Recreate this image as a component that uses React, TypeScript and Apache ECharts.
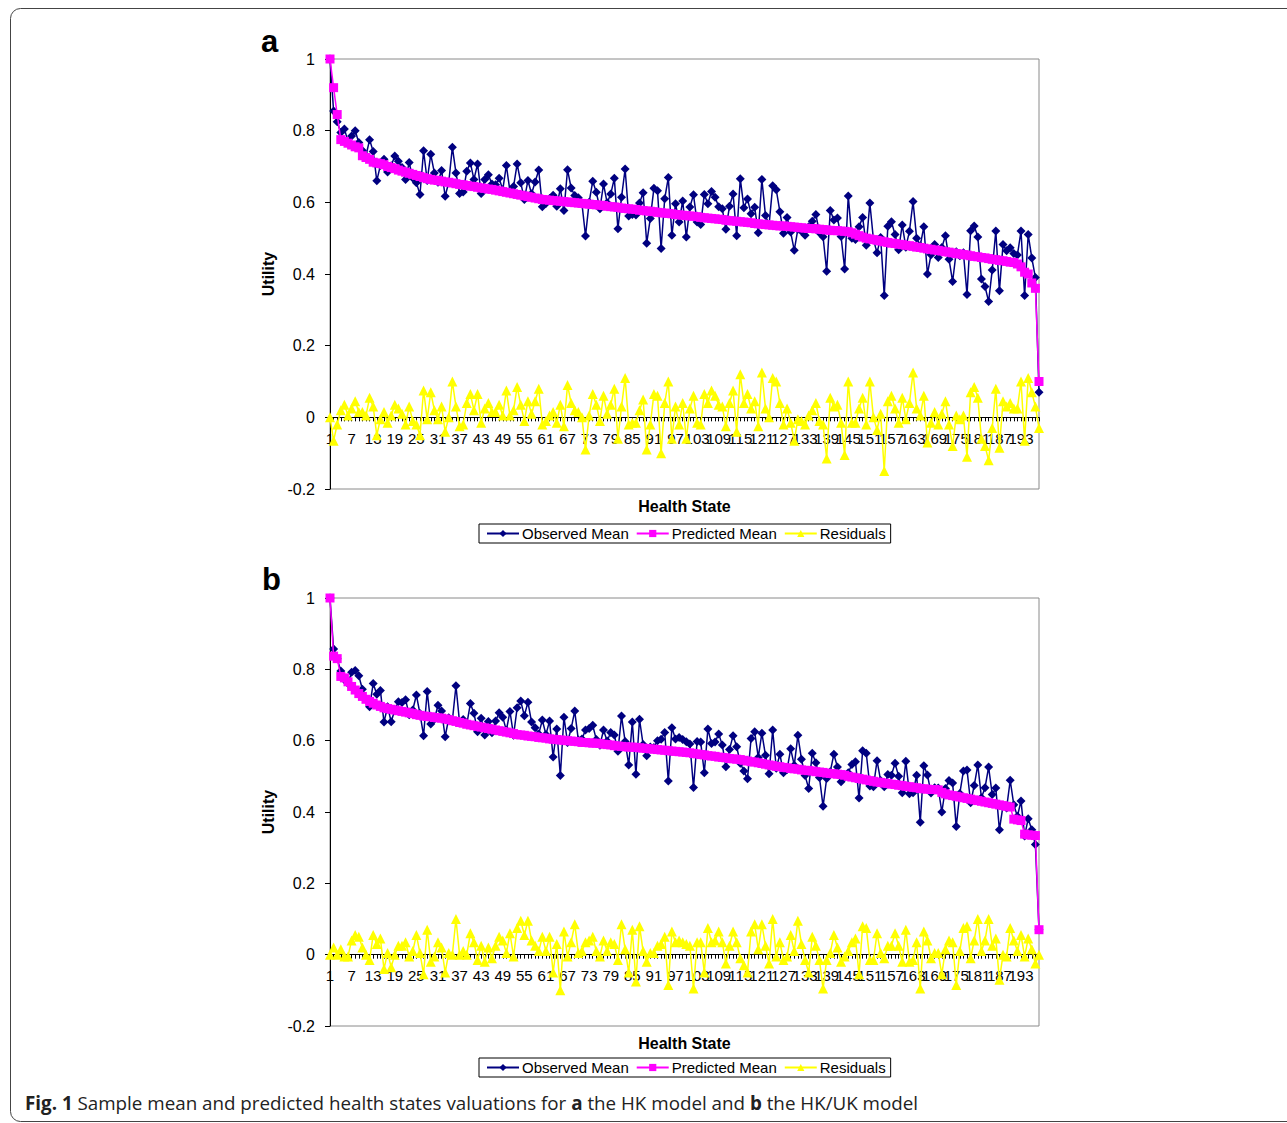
import React, { useEffect, useRef } from "react";
import * as echarts from "echarts";

const categories = Array.from({ length: 198 }, (_, i) => String(i + 1));
const seriesNames = ["Observed Mean", "Predicted Mean", "Residuals"];
const yTicks = { min: -0.2, max: 1, interval: 0.2 };
const labelStep = 6;

const predA = [1.000,0.920,0.845,0.775,0.770,0.765,0.760,0.755,0.752,0.730,
0.725,0.720,0.712,0.710,0.708,0.705,0.700,0.697,0.694,0.690,
0.687,0.684,0.681,0.678,0.675,0.672,0.669,0.666,0.664,0.662,
0.661,0.659,0.657,0.656,0.654,0.652,0.650,0.649,0.647,0.645,
0.644,0.642,0.640,0.639,0.637,0.636,0.634,0.632,0.630,0.628,
0.626,0.624,0.622,0.620,0.618,0.616,0.614,0.612,0.610,0.608,
0.607,0.606,0.605,0.604,0.603,0.602,0.601,0.600,0.599,0.598,
0.597,0.596,0.595,0.594,0.593,0.592,0.591,0.589,0.588,0.587,
0.586,0.584,0.583,0.582,0.581,0.580,0.578,0.577,0.576,0.575,
0.574,0.572,0.571,0.570,0.569,0.568,0.566,0.565,0.564,0.563,
0.562,0.561,0.560,0.558,0.557,0.556,0.555,0.554,0.553,0.552,
0.550,0.549,0.548,0.547,0.546,0.545,0.544,0.543,0.541,0.540,
0.539,0.538,0.537,0.536,0.535,0.534,0.534,0.533,0.532,0.531,
0.530,0.529,0.528,0.527,0.527,0.526,0.525,0.524,0.523,0.522,
0.521,0.521,0.520,0.519,0.518,0.515,0.511,0.507,0.503,0.500,
0.498,0.496,0.494,0.492,0.490,0.488,0.486,0.485,0.483,0.482,
0.480,0.479,0.477,0.475,0.474,0.472,0.470,0.469,0.467,0.466,
0.464,0.462,0.461,0.459,0.457,0.456,0.454,0.453,0.451,0.449,
0.448,0.446,0.445,0.443,0.441,0.440,0.438,0.437,0.435,0.433,
0.432,0.428,0.420,0.405,0.400,0.375,0.360,0.100];

const resA = [0,-0.065,-0.02,0.02,0.035,0.005,0.025,0.045,0.015,0.015,
0.005,0.055,0.03,-0.05,-0.005,0.015,-0.015,0.005,0.035,0.025,
0.01,-0.02,0.03,-0.01,-0.02,-0.05,0.075,-0.005,0.07,0.02,
-0.005,0.03,-0.04,0,0.10,0.03,-0.025,-0.02,0.04,0.065,
0.02,0.065,-0.015,0.025,0.04,0.015,0.015,0.035,0.005,0.075,
0.005,0.02,0.085,0.035,-0.01,0.045,0.01,0.045,0.08,-0.02,
-0.01,0.005,0.015,-0.015,0.035,-0.025,0.09,0.04,0.02,0.015,
0,-0.09,0.005,0.065,0.035,-0.01,0.06,0.01,0.035,0.08,
-0.06,0.03,0.11,-0.02,-0.015,-0.015,0.02,0.05,-0.09,-0.02,
0.065,0.06,-0.10,0.04,0.10,-0.06,0.03,-0.02,0.04,-0.06,
0.025,0.06,-0.015,-0.02,0.065,0.04,0.075,0.06,0.035,0.03,
-0.025,0.04,0.075,-0.04,0.12,0.04,0.065,0.025,0.045,-0.025,
0.125,0.025,0,0.11,0.10,0.04,-0.02,0.025,-0.015,-0.065,
-0.005,-0.01,-0.02,0.005,0.02,0.04,-0.01,-0.02,-0.115,0.055,
0.03,0.035,-0.015,-0.105,0.10,-0.015,-0.015,0.025,0.055,-0.02,
0.10,0,-0.035,0.01,-0.15,0.045,0.06,0.025,-0.015,0.055,
-0.005,0.04,0.125,0.025,0.005,0.06,-0.07,-0.015,0.015,-0.02,
0.01,0.045,-0.02,-0.08,0.005,-0.005,0.005,-0.11,0.07,0.085,
0.055,-0.06,-0.08,-0.12,-0.03,0.08,-0.085,0.045,0.03,0.04,
0.025,0.025,0.10,-0.065,0.11,0.07,0.03,-0.03];

const obsA = [1.000,0.855,0.825,0.795,0.805,0.770,0.785,0.800,0.767,0.745,
0.730,0.775,0.742,0.660,0.703,0.720,0.685,0.702,0.729,0.715,
0.697,0.664,0.711,0.668,0.655,0.622,0.744,0.661,0.734,0.682,
0.656,0.689,0.617,0.656,0.754,0.682,0.625,0.629,0.687,0.710,
0.664,0.707,0.625,0.664,0.677,0.651,0.649,0.667,0.635,0.703,
0.631,0.644,0.707,0.655,0.608,0.661,0.624,0.657,0.690,0.588,
0.597,0.611,0.620,0.589,0.638,0.577,0.691,0.640,0.619,0.613,
0.597,0.506,0.600,0.659,0.628,0.582,0.651,0.599,0.623,0.667,
0.526,0.614,0.693,0.562,0.566,0.565,0.598,0.627,0.486,0.555,
0.639,0.632,0.471,0.610,0.669,0.508,0.596,0.545,0.604,0.503,
0.587,0.621,0.545,0.538,0.622,0.596,0.630,0.614,0.588,0.582,
0.525,0.589,0.623,0.507,0.666,0.585,0.609,0.568,0.586,0.515,
0.664,0.563,0.537,0.646,0.635,0.574,0.514,0.558,0.517,0.466,
0.525,0.519,0.508,0.532,0.547,0.566,0.515,0.504,0.408,0.577,
0.551,0.556,0.505,0.414,0.618,0.500,0.496,0.532,0.558,0.480,
0.598,0.496,0.459,0.502,0.340,0.533,0.546,0.510,0.468,0.537,
0.475,0.519,0.602,0.500,0.479,0.532,0.400,0.454,0.482,0.446,
0.474,0.507,0.441,0.379,0.462,0.451,0.459,0.343,0.521,0.534,
0.503,0.386,0.365,0.323,0.411,0.520,0.353,0.482,0.465,0.473,
0.457,0.453,0.520,0.340,0.510,0.445,0.390,0.070];

const predB = [1.000,0.837,0.830,0.780,0.776,0.765,0.752,0.742,0.732,0.724,
0.716,0.710,0.705,0.700,0.696,0.692,0.690,0.688,0.686,0.684,
0.682,0.680,0.678,0.676,0.673,0.671,0.669,0.668,0.667,0.665,
0.664,0.663,0.661,0.659,0.656,0.654,0.651,0.649,0.646,0.644,
0.642,0.640,0.638,0.636,0.634,0.632,0.630,0.628,0.626,0.624,
0.622,0.620,0.617,0.616,0.615,0.613,0.612,0.611,0.609,0.608,
0.607,0.605,0.604,0.603,0.602,0.601,0.600,0.599,0.598,0.597,
0.595,0.595,0.594,0.593,0.593,0.592,0.590,0.589,0.588,0.586,
0.585,0.584,0.583,0.582,0.582,0.581,0.580,0.579,0.578,0.577,
0.576,0.575,0.574,0.573,0.572,0.571,0.570,0.569,0.568,0.567,
0.566,0.564,0.563,0.561,0.560,0.558,0.557,0.556,0.554,0.553,
0.552,0.550,0.549,0.548,0.547,0.545,0.543,0.541,0.540,0.538,
0.536,0.534,0.532,0.530,0.528,0.527,0.525,0.524,0.522,0.521,
0.520,0.518,0.517,0.516,0.515,0.513,0.512,0.511,0.509,0.508,
0.507,0.506,0.505,0.503,0.500,0.498,0.496,0.494,0.492,0.490,
0.488,0.486,0.484,0.483,0.481,0.480,0.478,0.477,0.475,0.474,
0.472,0.471,0.469,0.468,0.466,0.465,0.464,0.463,0.463,0.462,
0.455,0.451,0.448,0.446,0.444,0.442,0.440,0.438,0.436,0.434,
0.432,0.430,0.428,0.426,0.424,0.422,0.420,0.418,0.416,0.414,
0.380,0.378,0.376,0.338,0.336,0.335,0.334,0.070];

const resB = [0,0.02,0,0.015,-0.005,-0.005,0.04,0.055,0.05,0.02,
0,-0.015,0.055,0.03,0.045,-0.04,0.005,-0.035,0,0.025,
0.025,0.035,-0.005,0.01,0.055,0.005,-0.055,0.07,-0.02,-0.005,
0.035,0.02,-0.05,0.005,0,0.10,0,0.01,0,0.06,
0.035,-0.015,0.025,-0.02,0.02,-0.01,0.025,0.05,0.04,0.005,
0.06,-0.005,0.075,0.095,0.055,0.095,0.04,0.025,0.01,0.05,
0.01,0.05,-0.05,0.03,-0.10,0.065,-0.005,0.035,0.085,0.005,
0.01,0.035,0.04,0.05,0.01,-0.005,0.04,0.01,0.035,0.03,
-0.015,0.085,0.015,-0.05,0.07,-0.075,0.08,0.01,-0.02,0.005,
0.005,0.025,0.03,0.05,-0.085,0.065,0.035,0.04,0.035,0.03,
0.025,-0.095,0.035,0.035,-0.05,0.075,0.035,0.04,0.065,0.035,
-0.025,0.025,0.065,0.035,-0.01,-0.03,-0.05,0.065,0.085,0.015,
0.085,0.025,-0.025,0.10,-0.005,0.035,-0.015,-0.005,0.055,0.01,
0.095,0.03,-0.015,-0.05,0.05,0.025,-0.015,-0.095,-0.015,0.005,
0.055,0.02,-0.02,-0.005,0.01,0.035,0.045,-0.055,0.08,0.075,
-0.015,-0.015,0.06,0.005,-0.01,0.025,0.025,0.06,0.025,-0.02,
0.07,-0.02,-0.015,0.035,-0.095,0.065,0.04,-0.01,0.005,0.005,
-0.055,0.015,0.04,0.035,-0.085,0.01,0.075,0.08,-0.01,0.04,
0.10,0.01,0.04,0.10,0.025,0.045,-0.07,0,-0.005,0.075,
0.04,0.01,0.055,-0.005,0.045,0.015,-0.025,0];

const obsB = [1.000,0.857,0.830,0.795,0.771,0.760,0.792,0.797,0.782,0.744,
0.716,0.695,0.760,0.730,0.741,0.652,0.695,0.653,0.686,0.709,
0.707,0.715,0.673,0.686,0.728,0.676,0.614,0.738,0.647,0.660,
0.699,0.683,0.611,0.664,0.656,0.754,0.651,0.659,0.646,0.704,
0.677,0.625,0.663,0.616,0.654,0.622,0.655,0.678,0.666,0.629,
0.682,0.615,0.692,0.711,0.670,0.708,0.652,0.636,0.619,0.658,
0.617,0.655,0.554,0.633,0.502,0.666,0.595,0.634,0.683,0.602,
0.605,0.630,0.634,0.643,0.603,0.587,0.630,0.599,0.623,0.616,
0.570,0.669,0.598,0.532,0.652,0.506,0.660,0.589,0.558,0.582,
0.581,0.600,0.604,0.623,0.487,0.636,0.605,0.609,0.603,0.597,
0.591,0.469,0.598,0.596,0.510,0.633,0.592,0.596,0.619,0.588,
0.527,0.575,0.614,0.583,0.537,0.515,0.493,0.606,0.625,0.553,
0.621,0.559,0.507,0.630,0.523,0.562,0.510,0.519,0.577,0.531,
0.615,0.548,0.502,0.466,0.565,0.538,0.497,0.416,0.494,0.513,
0.562,0.526,0.485,0.498,0.510,0.533,0.541,0.439,0.572,0.565,
0.473,0.471,0.544,0.488,0.471,0.505,0.503,0.537,0.500,0.454,
0.542,0.451,0.454,0.503,0.371,0.530,0.504,0.453,0.468,0.467,
0.400,0.466,0.488,0.481,0.359,0.452,0.515,0.518,0.426,0.474,
0.532,0.440,0.468,0.526,0.449,0.467,0.350,0.418,0.411,0.489,
0.420,0.388,0.431,0.333,0.381,0.350,0.309,0.070];

const FONT = "'Liberation Sans', Arial, sans-serif";

function buildSeries(xIdx: number, yIdx: number, obs: number[], pred: number[], res: number[]) {
  const common = {
    type: "line" as const,
    xAxisIndex: xIdx,
    yAxisIndex: yIdx,
    showAllSymbol: true,
    animation: false,
  };
  return [
    {
      ...common,
      name: seriesNames[0],
      data: obs,
      symbol: "diamond",
      symbolSize: 9,
      itemStyle: { color: "#000080" },
      lineStyle: { color: "#000080", width: 1.5 },
      z: 2,
    },
    {
      ...common,
      name: seriesNames[1],
      data: pred,
      symbol: "rect",
      symbolSize: 9,
      itemStyle: { color: "#FF00FF" },
      lineStyle: { color: "#FF00FF", width: 1.5 },
      z: 3,
    },
    {
      ...common,
      name: seriesNames[2],
      data: res,
      symbol: "triangle",
      symbolSize: 10,
      itemStyle: { color: "#FFFF00" },
      lineStyle: { color: "#FFFF00", width: 1.5 },
      z: 4,
    },
  ];
}

const labelBase = {
  hideOverlap: false,
  color: "#000",
  fontSize: 15,
  fontFamily: FONT,
  margin: -58,
};

// main category axis: line, ticks, every other labelled category, and the axis name
function xAxisMain(grid: number) {
  return {
    type: "category" as const,
    gridIndex: grid,
    position: "bottom" as const,
    data: categories,
    boundaryGap: false,
    axisLine: { onZero: true, lineStyle: { color: "#000", width: 1 } },
    axisTick: { show: true, interval: 0, length: 4, lineStyle: { color: "#000" } },
    axisLabel: {
      ...labelBase,
      interval: (index: number) => index % (labelStep * 2) === 0,
    },
    splitLine: { show: false },
    name: "Health State",
    nameLocation: "middle" as const,
    nameGap: 9,
    nameTextStyle: { fontWeight: "bold" as const, fontSize: 16, color: "#000", fontFamily: FONT },
  };
}

// companion axis carrying the remaining labels (7, 19, 31, ...)
function xAxisAlt(grid: number) {
  return {
    type: "category" as const,
    gridIndex: grid,
    position: "bottom" as const,
    offset: 0,
    data: categories,
    boundaryGap: false,
    axisLine: { show: false, onZero: false },
    axisTick: { show: false },
    axisLabel: {
      ...labelBase,
      interval: (index: number) => index % (labelStep * 2) === labelStep,
    },
    splitLine: { show: false },
  };
}

function yAxisFor(grid: number) {
  return {
    type: "value" as const,
    gridIndex: grid,
    min: yTicks.min,
    max: yTicks.max,
    interval: yTicks.interval,
    axisLine: { show: true, onZero: false, lineStyle: { color: "#000", width: 1 } },
    axisTick: { show: true, length: 5, lineStyle: { color: "#000" } },
    axisLabel: {
      color: "#000",
      fontSize: 16,
      fontFamily: FONT,
      margin: 15,
      formatter: (v: number) => String(Math.round(v * 10) / 10),
    },
    splitLine: { show: false },
    name: "Utility",
    nameLocation: "middle" as const,
    nameRotate: 90,
    nameGap: 53,
    nameTextStyle: { fontWeight: "bold" as const, fontSize: 16, color: "#000", fontFamily: FONT },
  };
}

function legendFor(top: number) {
  return {
    data: seriesNames,
    left: 479,
    top,
    orient: "horizontal" as const,
    borderColor: "#000",
    borderWidth: 1,
    padding: [2, 5, 2, 7],
    itemGap: 7,
    itemWidth: 32,
    itemHeight: 9,
    selectedMode: false,
    textStyle: { color: "#000", fontSize: 15, fontFamily: FONT, padding: [0, 0, 0, -2] },
  };
}

export default function App() {
  const ref = useRef<HTMLDivElement>(null);
  useEffect(() => {
    if (!ref.current) return;
    const chart = echarts.init(ref.current, undefined, { renderer: "svg" });
    chart.setOption({
      animation: false,
      backgroundColor: "#fff",
      textStyle: { fontFamily: FONT },
      grid: [
        { left: 330, top: 59, width: 709, height: 430, show: true, borderColor: "#8a8a8a", borderWidth: 1 },
        { left: 330, top: 598, width: 709, height: 428, show: true, borderColor: "#8a8a8a", borderWidth: 1 },
      ],
      xAxis: [xAxisMain(0), xAxisAlt(0), xAxisMain(1), xAxisAlt(1)],
      yAxis: [yAxisFor(0), yAxisFor(1)],
      legend: [legendFor(524), legendFor(1058)],
      series: [...buildSeries(0, 0, obsA, predA, resA), ...buildSeries(2, 1, obsB, predB, resB)],
      graphic: [
        {
          type: "rect",
          shape: { x: 10.5, y: 8.5, width: 1300, height: 1113, r: 10 },
          style: { fill: "none", stroke: "#444", lineWidth: 1 },
          silent: true,
          z: 0,
        },
        {
          type: "text",
          left: 261,
          top: 26,
          style: { text: "a", font: `bold 31px ${FONT}`, fill: "#000" },
        },
        {
          type: "text",
          left: 262,
          top: 564,
          style: { text: "b", font: `bold 31px ${FONT}`, fill: "#000" },
        },
        {
          type: "text",
          left: 25,
          top: 1093,
          style: {
            text: "{b|Fig. 1} Sample mean and predicted health states valuations for {b|a} the HK model and {b|b} the HK/UK model",
            fill: "#222",
            fontSize: 18.8,
            fontFamily: "'Open Sans', sans-serif",
            rich: {
              b: { fontWeight: "bold", fontSize: 18.8, fontFamily: "'Open Sans', sans-serif", fill: "#222" },
            },
          },
        },
      ],
    });
    return () => chart.dispose();
  }, []);
  return (
    <div
      ref={ref}
      style={{ position: "absolute", left: 0, top: 0, width: 1287, height: 1123 }}
    />
  );
}
